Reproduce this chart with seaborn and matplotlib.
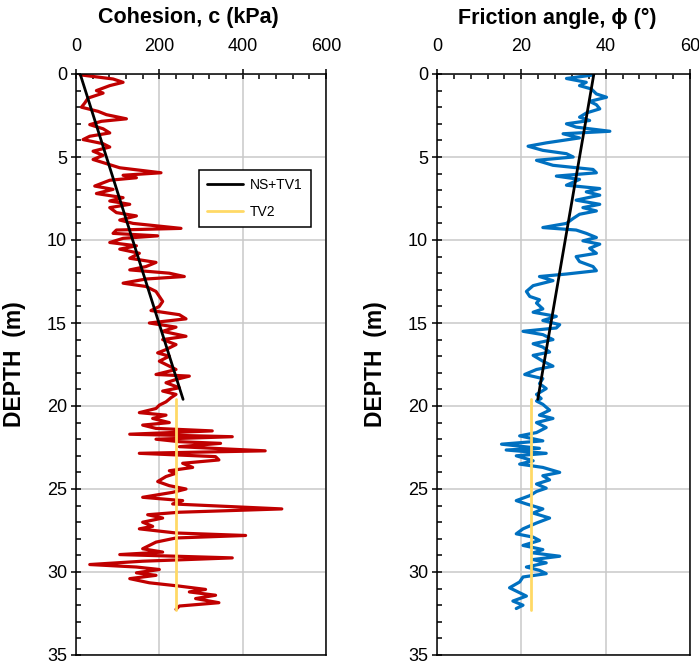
import matplotlib
matplotlib.use("Agg")
import matplotlib.pyplot as plt
import seaborn as sns
from matplotlib.ticker import MultipleLocator
from matplotlib.lines import Line2D

sns.set_theme(style="white")
plt.rcParams['font.family'] = ['Liberation Sans', 'DejaVu Sans']
plt.rcParams.update({'text.color': 'black', 'axes.labelcolor': 'black',
                     'xtick.color': 'black', 'ytick.color': 'black'})

# measured cohesion profile (depth in m, c in kPa)
c_depth = [0.05, 0.3, 0.5, 0.7, 1.0, 1.15, 1.45, 1.75, 2.0, 2.25,
           2.45, 2.7, 2.85, 3.05, 3.3, 3.55, 3.75, 3.95, 4.2, 4.4,
           4.65, 4.9, 5.15, 5.4, 5.65, 5.95, 6.1, 6.25, 6.4, 6.75,
           6.95, 7.2, 7.45, 7.65, 7.85, 8.05, 8.35, 8.55, 8.8, 9.0,
           9.3, 9.4, 9.6, 9.75, 9.9, 10.15, 10.35, 10.55, 10.8, 11.1,
           11.35, 11.6, 11.8, 12.0, 12.2, 12.35, 12.6, 12.8, 13.1, 13.4,
           13.7, 14.0, 14.25, 14.5, 14.75, 15.0, 15.25, 15.5, 15.8, 16.0,
           16.3, 16.6, 16.8, 17.0, 17.3, 17.6, 17.8, 18.1, 18.2, 18.4,
           18.6, 18.9, 19.1, 19.3, 19.5, 19.75, 19.95, 20.15, 20.4, 20.55,
           20.75, 21.0, 21.15, 21.35, 21.5, 21.7, 21.85, 22.0, 22.15, 22.25,
           22.45, 22.7, 22.85, 23.05, 23.25, 23.45, 23.7, 23.9, 24.05, 24.25,
           24.55, 24.8, 25.0, 25.2, 25.5, 25.7, 25.9, 26.2, 26.4, 26.55,
           26.75, 27.0, 27.25, 27.4, 27.65, 27.8, 27.95, 28.2, 28.4, 28.6,
           28.8, 28.95, 29.15, 29.35, 29.55, 29.7, 29.85, 30.05, 30.2, 30.4,
           30.65, 30.85, 31.05, 31.2, 31.4, 31.6, 31.85, 32.05, 32.25]
c_kpa = [10, 89, 113, 81, 49, 65, 29, 21, 13, 53,
         73, 121, 61, 33, 65, 81, 33, 17, 65, 81,
         41, 65, 41, 73, 105, 204, 113, 145, 81, 45,
         89, 49, 113, 81, 129, 81, 97, 145, 105, 137,
         252, 97, 89, 196, 113, 81, 145, 105, 152, 129,
         192, 168, 129, 224, 260, 168, 113, 168, 192, 200,
         208, 200, 180, 248, 264, 176, 240, 208, 264, 208,
         240, 216, 196, 224, 200, 224, 240, 192, 272, 240,
         216, 248, 208, 240, 228, 216, 200, 192, 152, 216,
         184, 224, 160, 192, 327, 129, 375, 192, 248, 347,
         248, 454, 152, 335, 343, 256, 280, 224, 240, 216,
         196, 224, 264, 232, 160, 256, 232, 494, 248, 172,
         208, 160, 184, 152, 240, 407, 240, 192, 176, 160,
         208, 105, 375, 160, 33, 145, 200, 145, 192, 129,
         176, 248, 311, 272, 335, 287, 343, 248, 240]

# measured friction angle profile (depth in m, phi in degrees)
phi_depth = [0.06, 0.27, 0.5, 0.7, 0.9, 1.2, 1.4, 1.65, 1.85, 2.1,
             2.35, 2.6, 2.8, 3.0, 3.2, 3.45, 3.6, 3.85, 4.15, 4.35,
             4.6, 4.8, 5.0, 5.2, 5.5, 5.75, 5.95, 6.15, 6.35, 6.7,
             6.9, 7.1, 7.3, 7.6, 7.85, 8.05, 8.25, 8.45, 8.7, 9.0,
             9.25, 9.4, 9.6, 9.85, 10.05, 10.25, 10.5, 10.8, 11.0, 11.3,
             11.6, 11.85, 12.05, 12.2, 12.45, 12.75, 13.1, 13.4, 13.6, 13.8,
             14.15, 14.35, 14.6, 14.85, 15.1, 15.3, 15.5, 15.7, 16.0, 16.25,
             16.45, 16.75, 16.95, 17.3, 17.6, 17.8, 18.1, 18.35, 18.65, 18.95,
             19.3, 19.55, 19.7, 19.9, 20.25, 20.55, 20.75, 21.0, 21.3, 21.6,
             21.8, 22.1, 22.3, 22.55, 22.65, 22.85, 23.0, 23.3, 23.5, 23.7,
             24.0, 24.2, 24.45, 24.7, 24.95, 25.15, 25.4, 25.7, 25.9, 26.2,
             26.45, 26.75, 27.05, 27.4, 27.7, 27.9, 28.1, 28.4, 28.65, 28.85,
             29.05, 29.25, 29.45, 29.7, 29.9, 30.1, 30.3, 30.6, 30.95, 31.15,
             31.45, 31.75, 32.0, 32.2]
phi_deg = [37.0, 30.7, 35.4, 33.8, 36.6, 37.8, 40.2, 36.2, 37.8, 38.6,
           35.4, 33.8, 36.2, 30.7, 33.0, 41.0, 29.9, 33.8, 25.9, 21.6,
           25.1, 30.7, 32.3, 23.6, 27.5, 37.0, 37.8, 28.3, 33.8, 30.7,
           38.6, 35.4, 38.6, 33.0, 38.6, 34.6, 37.8, 33.8, 32.3, 30.7,
           25.1, 33.0, 35.4, 37.8, 34.6, 38.6, 36.2, 37.8, 33.0, 33.8,
           37.0, 37.8, 30.7, 24.3, 27.5, 22.8, 21.2, 22.0, 24.3, 23.6,
           25.1, 22.8, 28.3, 25.1, 29.1, 28.3, 20.4, 25.1, 27.5, 22.8,
           25.1, 26.7, 22.8, 25.1, 27.5, 23.6, 20.8, 25.1, 24.3, 25.9,
           23.6, 24.7, 23.6, 25.1, 26.7, 24.3, 27.5, 23.6, 25.9, 23.6,
           19.6, 25.1, 15.3, 24.3, 16.4, 25.9, 18.8, 22.8, 19.6, 25.1,
           29.1, 25.1, 26.7, 23.6, 25.9, 23.6, 22.0, 18.8, 21.2, 25.1,
           22.8, 26.7, 23.6, 20.4, 18.8, 22.8, 24.3, 20.4, 25.1, 22.8,
           29.1, 22.8, 25.9, 21.2, 24.3, 25.9, 20.4, 19.6, 17.2, 18.8,
           21.2, 18.0, 20.4, 18.8]

# design lines
ns_depth = [0.0, 19.6]
ns_c = [10, 257]
ns_phi = [37.2, 23.9]
tv2_depth = [19.6, 32.3]
tv2_c = [240, 240]
tv2_phi = [22.3, 22.3]

RED, BLUE, YELLOW = '#C00000', '#0070C0', '#FFD966'

fig = plt.figure(figsize=(6.99, 6.66), dpi=100)
ax1 = fig.add_axes([76 / 699, 1 - 655 / 666, 250 / 699, 581 / 666])
ax2 = fig.add_axes([437 / 699, 1 - 655 / 666, 253 / 699, 581 / 666])


def style_axis(ax, xmax, major, minor):
    ax.set_xlim(0, xmax)
    ax.set_ylim(35, 0)
    ax.xaxis.set_major_locator(MultipleLocator(major))
    ax.xaxis.set_minor_locator(MultipleLocator(minor))
    ax.yaxis.set_major_locator(MultipleLocator(5))
    ax.yaxis.set_minor_locator(MultipleLocator(1))
    ax.xaxis.tick_top()
    ax.grid(True, which='major', color='#c9c9c9', linewidth=1.1)
    ax.tick_params(which='major', direction='inout', length=7, width=1.1,
                   color='black', labelsize=13, labelcolor='black')
    ax.tick_params(which='minor', direction='in', length=3.6, width=1.1, color='black')
    ax.tick_params(axis='x', which='both', top=True, bottom=False, labeltop=True, labelbottom=False)
    ax.tick_params(axis='x', which='major', pad=10)
    ax.tick_params(axis='y', which='both', left=True, right=False)
    ax.tick_params(axis='y', which='major', pad=3)
    for sp in ax.spines.values():
        sp.set_visible(True)
        sp.set_color('black')
        sp.set_linewidth(1.1)
    ax.set_xlabel('')
    ax.set_ylabel('DEPTH  (m)', fontsize=16.5, fontweight='bold', color='black')
    ax.yaxis.set_label_coords(-0.2, 0.5)


sns.lineplot(x=c_kpa, y=c_depth, ax=ax1, color=RED, linewidth=2.3, sort=False, estimator=None)
sns.lineplot(x=ns_c, y=ns_depth, ax=ax1, color='black', linewidth=2.0, sort=False, estimator=None)
sns.lineplot(x=tv2_c, y=tv2_depth, ax=ax1, color=YELLOW, linewidth=2.0, sort=False, estimator=None)

sns.lineplot(x=phi_deg, y=phi_depth, ax=ax2, color=BLUE, linewidth=2.3, sort=False, estimator=None)
sns.lineplot(x=ns_phi, y=ns_depth, ax=ax2, color='black', linewidth=2.0, sort=False, estimator=None)
sns.lineplot(x=tv2_phi, y=tv2_depth, ax=ax2, color=YELLOW, linewidth=2.0, sort=False, estimator=None)

style_axis(ax1, 600, 200, 40)
style_axis(ax2, 60, 20, 4)
ax2.yaxis.set_label_coords(-0.198, 0.5)

handles = [Line2D([], [], color='black', linewidth=2.0),
           Line2D([], [], color=YELLOW, linewidth=2.0)]
leg = ax1.legend(handles, ['NS+TV1', 'TV2'], loc='upper left',
                 bbox_to_anchor=(0.49, 0.835), borderaxespad=0, frameon=True,
                 fancybox=False, framealpha=1, edgecolor='black', fontsize=10,
                 handlelength=2.6, handletextpad=0.5, borderpad=0.6, labelspacing=0.9)
leg.get_frame().set_linewidth(1.1)

fig.text(188 / 699, 1 - 18 / 666, 'Cohesion, c (kPa)', ha='center', va='center',
         fontsize=15.5, fontweight='bold')
fig.text(557 / 699, 1 - 18 / 666, 'Friction angle, \u03d5 (\u00b0)', ha='center', va='center',
         fontsize=15.5, fontweight='bold')

fig.savefig('out.png', dpi=100)
